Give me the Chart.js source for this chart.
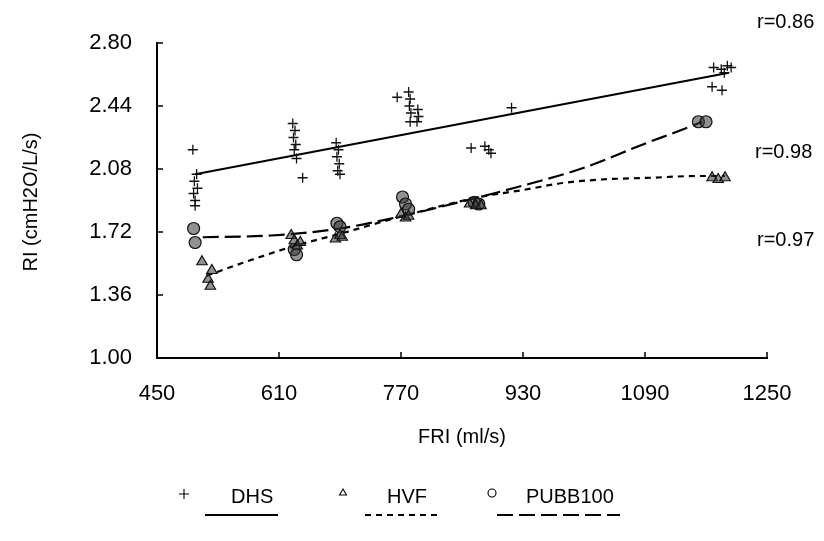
<!DOCTYPE html>
<html>
<head>
<meta charset="utf-8">
<script src="https://cdn.jsdelivr.net/npm/chart.js@4.4.1/dist/chart.umd.min.js"></script>
<style>
  html, body { margin: 0; padding: 0; background: #fff; }
  #wrap { width: 824px; height: 541px; position: relative; }
</style>
</head>
<body>
<div id="wrap"><canvas id="riChart"></canvas></div>
<script>
/* ── DATA ───────────────────────────────────────────────── */
const xTicks = [450, 610, 770, 930, 1090, 1250];
const yTicks = [1.00, 1.36, 1.72, 2.08, 2.44, 2.80];

// DHS  (+)
const dhsX = [497, 502, 499, 503, 498, 500, 500,
              628, 631, 629, 632, 630, 633, 641,
              685, 688, 686, 689, 687, 690,
              765, 780, 782, 781, 783, 782, 792, 793, 791,
              862, 880, 885, 888, 915,
              1180, 1190, 1198, 1203, 1194, 1178, 1191];
const dhsY = [2.19, 2.05, 2.01, 1.97, 1.94, 1.90, 1.87,
              2.34, 2.30, 2.26, 2.22, 2.19, 2.14, 2.03,
              2.23, 2.19, 2.15, 2.11, 2.07, 2.05,
              2.49, 2.52, 2.48, 2.44, 2.40, 2.35, 2.42, 2.38, 2.35,
              2.20, 2.21, 2.19, 2.17, 2.43,
              2.66, 2.65, 2.67, 2.66, 2.63, 2.55, 2.53];

// HVF  (triangle)
const hvfX = [509, 522, 517, 520,
              626, 630, 634, 638,
              684, 690, 693,
              770, 776, 780,
              860, 868, 875,
              1178, 1186, 1195];
const hvfY = [1.55, 1.50, 1.45, 1.41,
              1.70, 1.67, 1.64, 1.66,
              1.68, 1.70, 1.69,
              1.82, 1.80, 1.81,
              1.88, 1.87, 1.87,
              2.03, 2.02, 2.03];

// PUBB100  (circle)
const pubX = [498, 500, 630, 633, 686, 690, 772, 776, 780, 866, 872, 1160, 1170];
const pubY = [1.74, 1.66, 1.62, 1.59, 1.77, 1.75, 1.92, 1.88, 1.85, 1.89, 1.88, 2.35, 2.35];

// fitted curves as drawn in the figure
const dhsFitX = [500, 1200];
const dhsFitY = [2.05, 2.63];
const hvfFitX = [515, 560, 630, 690, 780, 873, 930, 982, 1033, 1098, 1158, 1195];
const hvfFitY = [1.47, 1.54, 1.64, 1.71, 1.82, 1.92, 1.96, 2.00, 2.02, 2.03, 2.04, 2.04];
const pubFitX = [510, 600, 690, 780, 873, 917, 1005, 1093, 1136, 1165];
const pubFitY = [1.69, 1.70, 1.74, 1.82, 1.92, 1.97, 2.08, 2.23, 2.30, 2.35];

const rLabels = ['r=0.86', 'r=0.98', 'r=0.97'];
const legendNames = ['DHS', 'HVF', 'PUBB100'];

/* ── HELPERS ────────────────────────────────────────────── */
const FONT = "'Liberation Sans', Arial, sans-serif";
const pts = (xs, ys) => xs.map((x, i) => ({ x: x, y: ys[i] }));

const markStyle = {
    showLine: false,
    borderColor: '#111',
    borderWidth: 1.2,
    backgroundColor: 'rgba(55,55,55,0.55)',
};
const fitStyle = {
    showLine: true,
    pointRadius: 0,
    borderColor: '#000',
    borderWidth: 2.2,
    tension: 0.4,
    cubicInterpolationMode: 'monotone',
    fill: false,
};

/* ── EXTRA DRAWING: inward ticks, titles, r labels, legend ─ */
const decor = {
    id: 'decor',
    afterDraw(chart) {
        const c = chart.ctx, xs = chart.scales.x, ys = chart.scales.y;
        const a = chart.chartArea;
        c.save();
        c.strokeStyle = '#000';
        c.lineWidth = 1.5;
        xTicks.forEach(v => {
            const px = xs.getPixelForValue(v);
            c.beginPath(); c.moveTo(px, a.bottom); c.lineTo(px, a.bottom - 6); c.stroke();
        });
        yTicks.forEach(v => {
            const py = ys.getPixelForValue(v);
            c.beginPath(); c.moveTo(a.left, py); c.lineTo(a.left + 6, py); c.stroke();
        });

        c.fillStyle = '#000';
        c.font = '20px ' + FONT;
        c.textAlign = 'center';
        c.textBaseline = 'middle';
        c.fillText('FRI (ml/s)', 462, 437);

        c.save();
        c.translate(31, 202);
        c.rotate(-Math.PI / 2);
        c.fillText('RI (cmH2O/L/s)', 0, 0);
        c.restore();

        c.textAlign = 'left';
        c.fillText(rLabels[0], 757, 22);
        c.fillText(rLabels[1], 755, 152);
        c.fillText(rLabels[2], 757, 240);

        // legend
        const ly = 497, uy = 515;
        c.fillText(legendNames[0], 231, ly);
        c.fillText(legendNames[1], 387, ly);
        c.fillText(legendNames[2], 526, ly);

        c.lineWidth = 1.1;
        c.fillStyle = '#fff';
        Chart.helpers.drawPoint(c, { pointStyle: 'cross', radius: 5, rotation: 0, borderWidth: 1 }, 184, 494);
        Chart.helpers.drawPoint(c, { pointStyle: 'triangle', radius: 4, rotation: 0, borderWidth: 1 }, 343, 493);
        Chart.helpers.drawPoint(c, { pointStyle: 'circle', radius: 4, rotation: 0, borderWidth: 1 }, 492, 493);

        c.lineWidth = 2;
        c.beginPath(); c.moveTo(205, uy); c.lineTo(278, uy); c.stroke();
        c.setLineDash([6, 5]);
        c.beginPath(); c.moveTo(365, uy); c.lineTo(437, uy); c.stroke();
        c.setLineDash([16, 6]);
        c.beginPath(); c.moveTo(497, uy); c.lineTo(620, uy); c.stroke();
        c.restore();
    }
};

/* ── CHART ──────────────────────────────────────────────── */
Chart.defaults.font.family = FONT;
Chart.defaults.color = '#000';

new Chart(document.getElementById('riChart'), {
    type: 'scatter',
    data: {
        datasets: [
            { ...markStyle, label: 'DHS', data: pts(dhsX, dhsY), pointStyle: 'cross', pointRadius: 5, borderWidth: 1.3 },
            { ...markStyle, label: 'HVF', data: pts(hvfX, hvfY), pointStyle: 'triangle', pointRadius: 6 },
            { ...markStyle, label: 'PUBB100', data: pts(pubX, pubY), pointStyle: 'circle', pointRadius: 6 },
            { ...fitStyle, label: 'DHS fit', data: pts(dhsFitX, dhsFitY) },
            { ...fitStyle, label: 'HVF fit', data: pts(hvfFitX, hvfFitY), borderDash: [6, 5] },
            { ...fitStyle, label: 'PUBB100 fit', data: pts(pubFitX, pubFitY), borderDash: [16, 6] },
        ]
    },
    options: {
        responsive: true,
        maintainAspectRatio: false,
        animation: false,
        layout: { padding: { top: 43, right: 57, left: 0, bottom: 0 } },
        plugins: { legend: { display: false }, tooltip: { enabled: false } },
        scales: {
            x: {
                type: 'linear',
                min: 450, max: 1250,
                afterBuildTicks: s => { s.ticks = xTicks.map(v => ({ value: v })); },
                afterFit: s => { s.height = 183; },
                grid: { display: false },
                border: { display: true, color: '#000', width: 2 },
                ticks: { font: { size: 22 }, padding: 15, maxRotation: 0, callback: v => String(v) }
            },
            y: {
                type: 'linear',
                min: 1.0, max: 2.8,
                afterBuildTicks: s => { s.ticks = yTicks.map(v => ({ value: v })); },
                afterFit: s => { s.width = 157; },
                grid: { display: false },
                border: { display: true, color: '#000', width: 2 },
                ticks: { font: { size: 22 }, padding: 17, callback: v => Number(v).toFixed(2) }
            }
        }
    },
    plugins: [decor]
});
</script>
</body>
</html>
